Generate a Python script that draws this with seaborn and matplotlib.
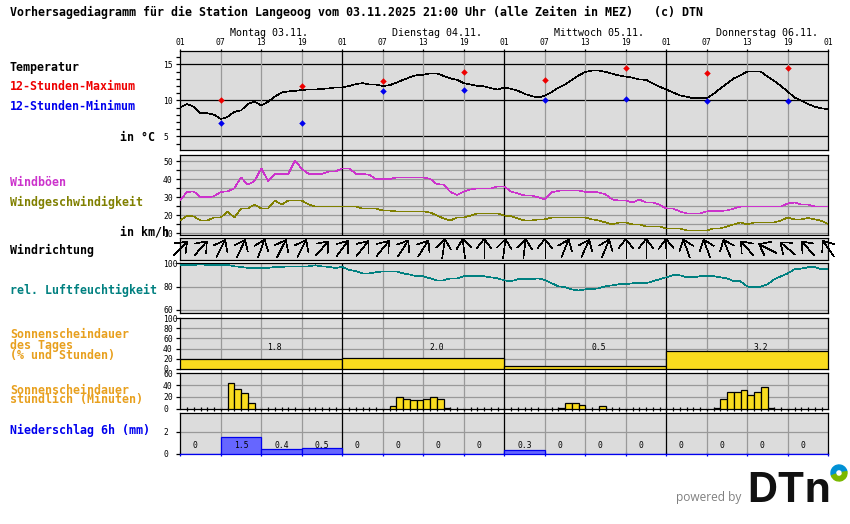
import matplotlib
matplotlib.use('Agg')
import matplotlib.pyplot as plt
from matplotlib.patches import Wedge
import numpy as np
import seaborn as sns

# forecast values, one entry per hour starting at 01 Uhr on Monday
temperature = [9.0, 9.5, 9.1, 8.2, 8.2, 8.0, 7.4, 7.7, 8.4, 8.6, 9.5, 9.8, 9.3, 9.8, 10.5, 11.1, 11.25, 11.3, 11.45, 11.5,
               11.5, 11.6, 11.65, 11.8, 11.8, 12.0, 12.25, 12.4, 12.2, 12.2, 12.0, 12.1, 12.45, 12.85, 13.2, 13.5, 13.55, 13.75, 13.75, 13.4,
               13.05, 12.85, 12.4, 12.2, 12.0, 11.95, 11.7, 11.5, 11.8, 11.6, 11.35, 10.9, 10.6, 10.4, 10.65, 11.15, 11.75, 12.2, 12.85, 13.45,
               13.95, 14.15, 14.15, 13.95, 13.7, 13.45, 13.3, 13.15, 12.9, 12.85, 12.35, 11.9, 11.5, 11.1, 10.7, 10.5, 10.3, 10.3, 10.3, 10.9,
               11.65, 12.35, 13.05, 13.5, 14.0, 14.0, 14.0, 13.3, 12.7, 12.0, 11.2, 10.4, 9.95, 9.5, 9.1, 8.9, 8.75]
minmax_hours = [6, 18, 30, 42, 54, 66, 78, 90]
temp_max = [10.0, 11.95, 12.65, 14.0, 12.8, 14.45, 13.75, 14.45]
temp_min = [6.8, 6.8, 11.25, 11.5, 10.0, 10.25, 9.9, 9.9]

gusts = [28.4, 33, 33.2, 30, 30, 30.6, 33, 33.2, 35, 41, 37, 39, 46, 39, 43, 43, 43, 50.4, 45.6, 43,
         43, 43, 44.3, 44.3, 46, 46, 43, 43, 42.4, 40, 40, 40, 41, 41, 41, 41, 41, 40.2, 37.3, 37,
         33, 31.2, 33.2, 34.3, 34.9, 34.9, 34.9, 36, 36, 33.2, 32.1, 31, 31, 30, 28.8, 32.7, 33.6, 33.8, 33.8, 33.8,
         33, 33, 32.7, 31.6, 28.8, 28.2, 28.2, 27.1, 28.8, 27.1, 27.1, 25.9, 23.8, 23.8, 22.2, 21.1, 21.1, 21.1, 22.2, 22.5,
         22.5, 22.7, 23.8, 24.9, 24.9, 24.9, 24.9, 24.9, 24.9, 24.9, 26.6, 27.1, 26, 26, 24.9, 24.9, 24.9]
wind_speed = [17.2, 19.8, 19.4, 17.2, 17.2, 18.8, 18.8, 22.2, 18.8, 23.8, 23.8, 26, 23.8, 23.8, 28.2, 26, 28.2, 28.2, 28.2, 26,
              24.9, 24.9, 24.9, 24.9, 24.9, 24.9, 24.9, 23.8, 23.8, 23.8, 22.7, 22.7, 22.2, 22.2, 22.2, 22.2, 22.2, 21.6, 20, 18.3,
              17.2, 18.8, 18.8, 19.9, 21.1, 21.1, 21.1, 21.1, 19.9, 19.6, 18.3, 17.2, 17.2, 17.8, 17.8, 18.8, 18.8, 18.8, 18.8, 18.8,
              18.8, 17.8, 17.2, 16.1, 15, 16.1, 16.1, 15, 15, 13.9, 13.9, 13.9, 12.8, 12.8, 12.8, 11.7, 11.7, 11.7, 11.7, 12.8,
              12.8, 13.9, 15, 16.1, 15, 16.1, 16.1, 16.1, 16.1, 17.2, 18.8, 17.8, 17.8, 18.6, 17.8, 17, 15.1]
# arrow heading every 3 hours, degrees clockwise from north
wind_heading = [45, 41, 27, 25, 20, 27, 27, 41, 37, 39, 39, 33, 33, 8, -7, 0, 7, 7, 0, 22, 24, 22, 0, 0, -2, -20, -20, -22,
                -41, -63, -50, -42, -35]
humidity = [98.6, 98.6, 98.6, 99.1, 98.6, 98.6, 98.6, 98.6, 97.4, 96.9, 96, 96, 96, 96, 96.9, 96.9, 97.4, 97.4, 97.4, 97.4,
            98.3, 97.4, 96.9, 96, 96.9, 94.3, 93.4, 91.4, 91.4, 92.3, 93.1, 93.1, 93.1, 91.4, 90.3, 88.9, 88.9, 87.1, 85.4, 85.4,
            87.1, 87.1, 88.9, 88.9, 88.9, 88.9, 88, 87.1, 85.4, 84.6, 86.3, 86.3, 86.3, 87.1, 85.7, 82.9, 80.3, 79.4, 77.7, 76.6,
            77.7, 77.7, 78.6, 80.3, 81.1, 82, 82, 82.9, 82.9, 82.9, 84.6, 86.3, 88, 89.7, 89.7, 88, 88, 88.9, 88.9, 88.9,
            88, 87.1, 84.6, 84.6, 80, 79.4, 80, 82, 86.3, 88.9, 91.4, 94.9, 95.4, 96.6, 96.6, 94.9, 94.9]

sun_day_percent = [20, 22, 6, 36]
sun_day_hours = ['1.8', '2.0', '0.5', '3.2']
sun_hour_index = [7, 8, 9, 10, 31, 32, 33, 34, 35, 36, 37, 38, 39, 56, 57, 58, 59, 62, 79, 80, 81, 82, 83, 84, 85, 86, 87]
sun_minutes = [43, 33, 26, 9, 5, 19, 16, 14, 15, 17, 19, 17, 1, 1, 9, 9, 7, 4, 1, 16, 28, 28, 31, 24, 29, 36, 1]
precip_6h = [0, 1.5, 0.4, 0.5, 0, 0, 0, 0, 0.3, 0, 0, 0, 0, 0, 0, 0]
precip_text = ['0', '1.5', '0.4', '0.5', '0', '0', '0', '0', '0.3', '0', '0', '0', '0', '0', '0', '0']

hours = np.arange(97)
hour_labels = ['01', '07', '13', '19'] * 4 + ['01']
day_labels = ['Montag 03.11.', 'Dienstag 04.11.', 'Mittwoch 05.11.', 'Donnerstag 06.11.']

W, H = 850, 524
X0, X1 = 180.3, 828.3
PANEL = '#dcdcdc'
GRID = '#999999'
YELLOW = '#fadc1e'
ORANGE = '#e8a01e'
LW = 0.9  # straight lines, a bit over one pixel with soft edges
THIN = 0.45  # sloped lines stay one pixel wide without antialiasing

sns.set_theme(style='white', rc={'axes.linewidth': LW, 'xtick.major.width': LW, 'ytick.major.width': LW,
                                 'xtick.minor.width': LW, 'ytick.minor.width': LW})
plt.rcParams['font.family'] = ['DejaVu Sans Mono']

fig = plt.figure(figsize=(W / 100, H / 100), dpi=100, facecolor='white')


def px(x, y):
    return x / W, 1 - y / H


def make_panel(top, bottom, ylim, yticks, hgrid, minor=None, vgrid=True):
    ax = fig.add_axes([X0 / W, 1 - bottom / H, (X1 - X0) / W, (bottom - top) / H], facecolor=PANEL)
    ax.set_xlim(0, 96)
    ax.set_ylim(*ylim)
    ax.set_axisbelow(True)
    for y, colour in hgrid:
        ax.axhline(y, color=colour, lw=LW, zorder=1)
    if vgrid:
        for h in range(6, 96, 6):
            ax.axvline(h, color='black' if h % 24 == 0 else GRID, lw=LW, zorder=1.5 if h % 24 == 0 else 1.2)
    ax.set_xticks([])
    ax.set_yticks(yticks)
    ax.set_yticklabels([str(t) for t in yticks])
    if minor is not None:
        ax.set_yticks(minor, minor=True)
    ax.tick_params(axis='y', which='both', left=True, length=3.2, pad=9.2, labelsize=5.8, colors='black')
    for lab in ax.get_yticklabels():
        lab.set_horizontalalignment('left')
    for sp in ax.spines.values():
        sp.set_color('black')
    return ax


def finish(ax, ylim):
    ax.set_xlim(0, 96)
    ax.set_ylim(*ylim)
    ax.set_xlabel('')
    ax.set_ylabel('')


# vertical lines that run on through the white gaps between the panels
back = fig.add_axes([X0 / W, 0, (X1 - X0) / W, 1], zorder=-1)
back.set_axis_off()
back.set_xlim(0, 96)
back.set_ylim(H, 0)
for h in range(6, 96, 6):
    col = 'black' if h % 24 == 0 else GRID
    back.vlines(h, 150, 155.5, color=col, lw=LW)
    back.vlines(h, 313, 318.5, color=col, lw=LW)
    back.vlines(h, 368.5, 373.5, color=col, lw=LW)
    back.vlines(h, 408.5, 413.5, color=col, lw=LW)

# temperature
lim = (3.1, 16.9)
ax = make_panel(50.7, 150, lim, [5, 10, 15], [(5, 'black'), (10, 'black'), (15, 'black')], minor=list(range(4, 17)))
sns.lineplot(x=hours, y=temperature, ax=ax, color='black', lw=THIN, antialiased=False, zorder=3)
sns.scatterplot(x=minmax_hours, y=temp_max, ax=ax, color='#ee0000', marker='D', s=11, linewidth=0, zorder=4)
sns.scatterplot(x=minmax_hours, y=temp_min, ax=ax, color='#0000ee', marker='D', s=11, linewidth=0, zorder=4)
finish(ax, lim)
ax.xaxis.tick_top()
ax.set_xticks(np.arange(0, 97, 6))
ax.set_xticklabels(hour_labels)
ax.tick_params(axis='x', top=True, length=1.6, pad=1.2, labelsize=5.8, colors='black')

# wind speed and gusts
lim = (9.0, 53.2)
ax = make_panel(155.3, 235.3, lim, [10, 20, 30, 40, 50], [(v, GRID) for v in range(10, 55, 5)], minor=list(range(10, 55, 5)))
sns.lineplot(x=hours, y=gusts, ax=ax, color='#cc33cc', lw=THIN, antialiased=False, zorder=3)
sns.lineplot(x=hours, y=wind_speed, ax=ax, color='#808000', lw=THIN, antialiased=False, zorder=3)
finish(ax, lim)

# wind direction arrows, the panel scale is one unit per pixel
ax = make_panel(238, 260.3, (0, 22.3), [], [], vgrid=False)
px_per_hour = (X1 - X0) / 96
for i, heading in enumerate(wind_heading):
    cx, cy = i * 3, 11.8
    a = np.radians(heading)
    tip = (cx + 9.5 * np.sin(a) / px_per_hour, cy + 9.5 * np.cos(a))
    tail = (cx - 9.5 * np.sin(a) / px_per_hour, cy - 9.5 * np.cos(a))
    ax.plot([tail[0], tip[0]], [tail[1], tip[1]], color='black', lw=THIN, antialiased=False, clip_on=False, zorder=5)
    for side in (-1, 1):
        b = a + np.pi + side * np.radians(38)
        ax.plot([tip[0], tip[0] + 12 * np.sin(b) / px_per_hour], [tip[1], tip[1] + 12 * np.cos(b)],
                color='black', lw=THIN, antialiased=False, clip_on=False, zorder=5)
ax.set_xlim(0, 96)
ax.set_ylim(0, 22.3)

# relative humidity
lim = (57.1, 100)
ax = make_panel(263.3, 313.3, lim, [60, 80, 100], [(80, GRID), (60, GRID)])
sns.lineplot(x=hours, y=humidity, ax=ax, color='#008080', lw=THIN, antialiased=False, zorder=3)
finish(ax, lim)

# sunshine per day
lim = (0, 100)
ax = make_panel(318.3, 368.7, lim, [0, 20, 40, 60, 80, 100], [(v, GRID) for v in range(20, 100, 20)])
sns.barplot(x=np.arange(12, 96, 24), y=sun_day_percent, ax=ax, native_scale=True, width=1, color=YELLOW, saturation=1,
            edgecolor='black', linewidth=LW, zorder=3)
finish(ax, lim)
for i, label in enumerate(sun_day_hours):
    ax.text(13 + 24 * i + 1, 43, label, ha='center', va='center', fontsize=5.8, color='black', zorder=6)

# sunshine per hour
lim = (0, 60)
ax = make_panel(373.3, 408.7, lim, [0, 20, 40, 60], [(20, GRID), (40, GRID)])
sns.barplot(x=np.array(sun_hour_index) + 0.5, y=sun_minutes, ax=ax, native_scale=True, width=1, color=YELLOW, saturation=1,
            edgecolor='black', linewidth=LW, zorder=3)
finish(ax, lim)
ax.set_xticks(np.arange(1, 96))
ax.set_xticklabels([])
ax.tick_params(axis='x', bottom=True, direction='inout', length=3, width=LW, color='black')

# precipitation
lim = (0, 3.67)
ax = make_panel(413.3, 453.7, lim, [0, 2], [(2, GRID)])
sns.barplot(x=np.arange(3, 96, 6), y=precip_6h, ax=ax, native_scale=True, width=1, color='#6666ff', saturation=1,
            edgecolor='#0000ee', linewidth=LW, zorder=3)
finish(ax, lim)
ax.spines['bottom'].set_color('#0000ee')
ax.set_xticks(np.arange(0, 97, 6))
ax.set_xticklabels([])
ax.tick_params(axis='x', bottom=True, direction='inout', length=2.5, width=LW, color='#0000ee')
for i, label in enumerate(precip_text):
    shift = -0.8 if label == '0' else 0
    ax.text(3 + 6 * i + shift, 0.77, label, ha='center', va='center', fontsize=5.8, color='black', zorder=6)

# all the texts around the panels
TITLE = 'Vorhersagediagramm für die Station Langeoog vom 03.11.2025 21:00 Uhr (alle Zeiten in MEZ)   (c) DTN'
left_labels = [
    (10, 12, TITLE, 'black'),
    (10, 67, 'Temperatur', 'black'),
    (10, 87, '12-Stunden-Maximum', '#ee0000'),
    (10, 107, '12-Stunden-Minimum', '#0000ee'),
    (120, 137, 'in °C', 'black'),
    (10, 182, 'Windböen', '#cc33cc'),
    (10, 202, 'Windgeschwindigkeit', '#808000'),
    (120, 232, 'in km/h', 'black'),
    (10, 250, 'Windrichtung', 'black'),
    (10, 290, 'rel. Luftfeuchtigkeit', '#008080'),
    (10, 335, 'Sonnenscheindauer', ORANGE),
    (10, 345, 'des Tages', ORANGE),
    (10, 355, '(% und Stunden)', ORANGE),
    (10, 390, 'Sonnenscheindauer', ORANGE),
    (10, 400, 'stündlich (Minuten)', ORANGE),
    (10, 430, 'Niederschlag 6h (mm)', '#0000ee'),
]
for x, y, label, colour in left_labels:
    fx, fy = px(x, y)
    fig.text(fx, fy, label, color=colour, fontsize=8.37, fontweight='bold', ha='left', va='center', zorder=20)

for x, label in zip([269.5, 437, 599.5, 767], day_labels):
    fx, fy = px(x, 33)
    fig.text(fx, fy, label, color='black', fontsize=7.2, ha='center', va='center')

# DTN logo in the corner
fx, fy = px(709, 497)
fig.text(fx, fy, 'powered by', family='Open Sans', color='#808080', fontsize=8.6, ha='center', va='center')
fx, fy = px(747, 502)
fig.text(fx, fy, 'DTn', family='Inter', fontweight='bold', color='#111111', fontsize=30, ha='left', va='baseline')
logo = fig.add_axes([0, 0, 1, 1], zorder=30)
logo.set_axis_off()
logo.set_xlim(0, W)
logo.set_ylim(H, 0)
logo.add_patch(Wedge((839, 473), 8, 160, 350, width=4.5, color='#0091d5'))
logo.add_patch(Wedge((839, 473), 8, -10, 160, width=4.5, color='#7ab800'))

fig.savefig('out.png', dpi=100)
